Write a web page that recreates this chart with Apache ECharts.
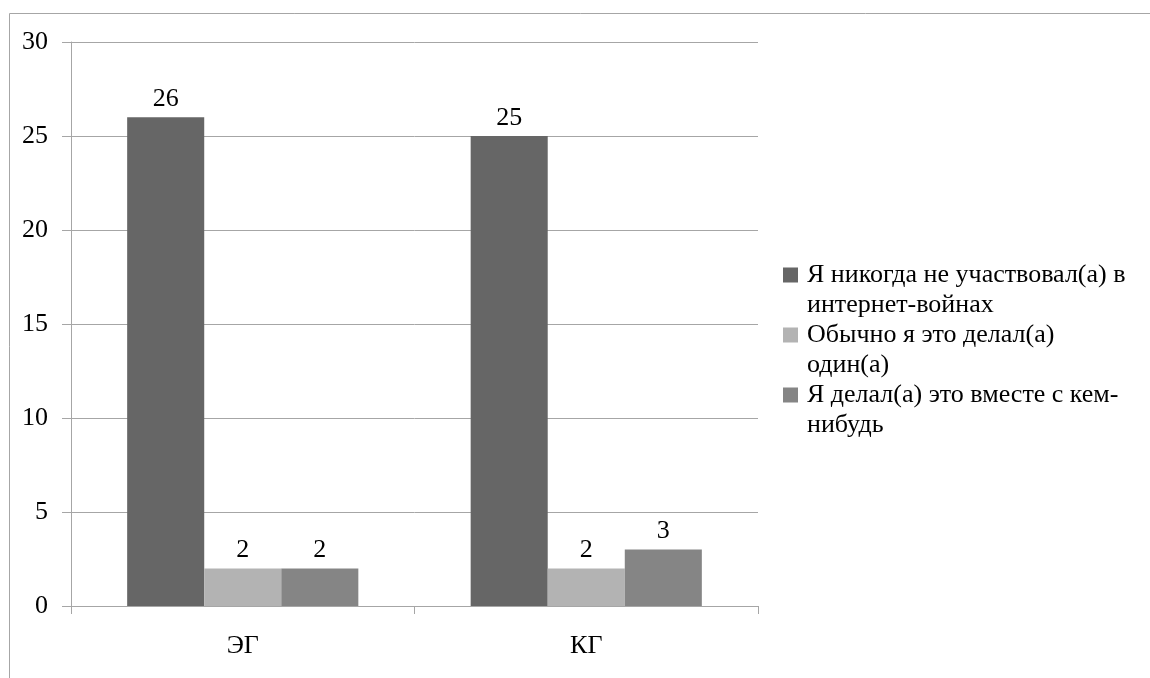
<!DOCTYPE html>
<html>
<head>
<meta charset="utf-8">
<style>
  html, body { margin: 0; padding: 0; background: #ffffff; }
  #chart { width: 1150px; height: 678px; }
</style>
<script src="https://cdn.jsdelivr.net/npm/echarts@6/dist/echarts.min.js"></script>
</head>
<body>
<div id="chart"></div>
<script>
// Groups on the category axis
const categories = ['ЭГ', 'КГ'];

// Answer options (series) and their counts per group
const seriesNames = [
  'Я никогда не участвовал(а) в интернет-войнах',
  'Обычно я это делал(а) один(а)',
  'Я делал(а) это вместе с кем-нибудь'
];
const legendLines = [
  'Я никогда не участвовал(а) в\nинтернет-войнах',
  'Обычно я это делал(а)\nодин(а)',
  'Я делал(а) это вместе с кем-\nнибудь'
];
const neverValues = [26, 25];
const aloneValues = [2, 2];
const togetherValues = [2, 3];

// Value axis ticks
const yMin = 0;
const yMax = 30;
const yStep = 5;

const colors = ['#666666', '#b3b3b3', '#858585'];
const serif = 'Times New Roman, Liberation Serif, serif';
const fontSize = 26;
const axisGray = '#a6a6a6';

const valuesBySeries = [neverValues, aloneValues, togetherValues];

// Legend marker: square aligned with the first text line of a two-line item
const lineH = 30;
const box = 15;
const markerPath = 'path://M0,' + (lineH - box) / 2 + 'h' + box + 'v' + box + 'h-' + box + 'z' +
  ' M0,0h0.01v0.01z M' + (box - 0.01) + ',' + (2 * lineH - 0.01) + 'h0.01v0.01z';

const chart = echarts.init(document.getElementById('chart'), null, { renderer: 'canvas' });

chart.setOption({
  animation: false,
  backgroundColor: '#ffffff',
  textStyle: { fontFamily: serif },
  graphic: [{
    type: 'rect',
    shape: { x: 9.5, y: 13.5, width: 1200, height: 700 },
    style: { fill: 'none', stroke: axisGray, lineWidth: 1 },
    silent: true,
    z: -1
  }],
  grid: { left: 71, right: 392, top: 42, bottom: 72, containLabel: false },
  legend: {
    orient: 'vertical',
    left: 783,
    top: 260,
    padding: 0,
    itemWidth: box,
    itemHeight: 2 * lineH,
    itemGap: 0,
    icon: markerPath,
    data: seriesNames,
    formatter: function (name) {
      return legendLines[seriesNames.indexOf(name)];
    },
    textStyle: { fontFamily: serif, fontSize: fontSize, color: '#000000', lineHeight: lineH, padding: [0, 0, 0, 4] }
  },
  xAxis: {
    type: 'category',
    data: categories,
    axisLine: { lineStyle: { color: axisGray, width: 1 } },
    axisTick: { show: true, length: 8, lineStyle: { color: axisGray } },
    axisLabel: { margin: 27, fontFamily: serif, fontSize: fontSize, color: '#000000' }
  },
  yAxis: {
    type: 'value',
    min: yMin,
    max: yMax,
    interval: yStep,
    axisLine: { show: true, lineStyle: { color: axisGray, width: 1 } },
    axisTick: { show: true, length: 9, lineStyle: { color: axisGray } },
    axisLabel: { margin: 23, fontFamily: serif, fontSize: fontSize, color: '#000000' },
    splitLine: { show: true, lineStyle: { color: axisGray, width: 1 } }
  },
  series: seriesNames.map(function (name, i) {
    return {
      name: name,
      type: 'bar',
      data: valuesBySeries[i],
      barGap: '0%',
      barCategoryGap: '32.7%',
      itemStyle: { color: colors[i] },
      label: {
        show: true,
        position: 'top',
        distance: 5,
        fontFamily: serif,
        fontSize: fontSize,
        color: '#000000'
      }
    };
  })
});
</script>
</body>
</html>
